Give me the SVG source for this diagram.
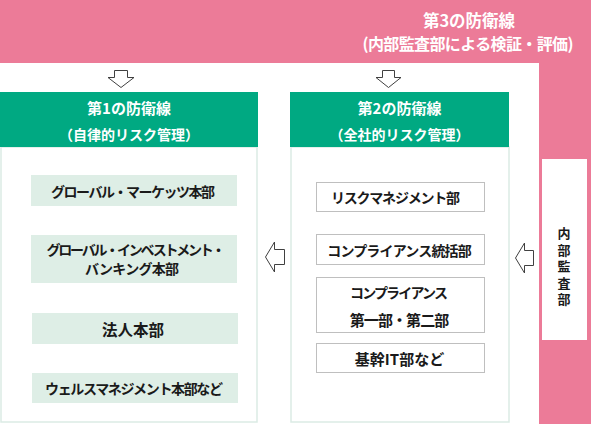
<svg xmlns="http://www.w3.org/2000/svg" width="591" height="424" viewBox="0 0 591 424">
<style>
text{font-family:"Noto Sans CJK JP","Noto Sans",sans-serif;font-weight:bold;text-anchor:middle;dominant-baseline:central}
.t1{font-size:16.5px;fill:#ffffff}
.t2{font-size:16px;fill:#ffffff}
.h1{font-size:15px;fill:#ffffff}
.h2{font-size:14px;fill:#ffffff}
.item{font-size:14px;fill:#1a1a1a}
.big{font-size:15.5px;fill:#1a1a1a}
.mid{font-size:15px;fill:#1a1a1a}
.vert{font-size:13px;fill:#1a1a1a;writing-mode:vertical-rl;letter-spacing:3.4px}
.pink{fill:#ec7b98}
.green{fill:#00a982}
.panel{fill:#ffffff;stroke:#dbebe5;stroke-width:1.5}
.lbox{fill:#deeee6}
.rbox{fill:#ffffff;stroke:#bfbfbf;stroke-width:1}
.arrow{fill:#ffffff;stroke:#404040;stroke-width:1}
</style>
<g id="third-line">
<rect class="pink" x="0" y="0" width="591" height="63"/>
<rect class="pink" x="539" y="63" width="52" height="361"/>
<text class="t1" x="469" y="20">第3の防衛線</text>
<text class="t2" x="468" y="43" textLength="211" lengthAdjust="spacing">(内部監査部による検証・評価)</text>
</g>
<g id="internal-audit">
<rect x="542" y="159" width="45" height="181" fill="#ffffff"/>
<text class="vert" x="564" y="268">内部監査部</text>
</g>
<g id="first-line">
<rect class="panel" x="1" y="147" width="256" height="275"/>
<rect class="green" x="0" y="92" width="258" height="55"/>
<text class="h1" x="129" y="107">第1の防衛線</text>
<text class="h2" x="129" y="134">（自律的リスク管理）</text>
</g>
<g id="global-markets">
<rect class="lbox" x="31" y="175" width="206" height="31"/>
<text class="item" x="133" y="191" textLength="164" lengthAdjust="spacing">グローバル・マーケッツ本部</text>
</g>
<g id="global-ib">
<rect class="lbox" x="31" y="235" width="206" height="48"/>
<text class="item" x="136" y="249" textLength="179" lengthAdjust="spacing">グローバル・インベストメント・</text>
<text class="item" x="132" y="268" textLength="94" lengthAdjust="spacing">バンキング本部</text>
</g>
<g id="corporate">
<rect class="lbox" x="32" y="313" width="206" height="31"/>
<text class="big" x="133" y="329">法人本部</text>
</g>
<g id="wealth">
<rect class="lbox" x="32" y="373" width="206" height="30"/>
<text class="item" x="134" y="388" textLength="178" lengthAdjust="spacing">ウェルスマネジメント本部など</text>
</g>
<g id="second-line">
<rect class="panel" x="291" y="147" width="218" height="275"/>
<rect class="green" x="290" y="92" width="219" height="55"/>
<text class="h1" x="399.5" y="107">第2の防衛線</text>
<text class="h2" x="399.5" y="134">（全社的リスク管理）</text>
</g>
<g id="risk-mgmt">
<rect class="rbox" x="316.5" y="182.5" width="168" height="29"/>
<text class="item" x="395.5" y="197" textLength="129" lengthAdjust="spacing">リスクマネジメント部</text>
</g>
<g id="compliance-hq">
<rect class="rbox" x="316.5" y="234.5" width="168" height="30"/>
<text class="item" x="399.5" y="250" textLength="144.5" lengthAdjust="spacing">コンプライアンス統括部</text>
</g>
<g id="compliance-depts">
<rect class="rbox" x="316.5" y="277.5" width="168" height="55"/>
<text class="item" x="399" y="292" textLength="98" lengthAdjust="spacing">コンプライアンス</text>
<text class="mid" x="399.5" y="319" textLength="99.5" lengthAdjust="spacing">第一部・第二部</text>
</g>
<g id="core-it">
<rect class="rbox" x="316.5" y="343.5" width="168" height="29"/>
<text class="mid" x="399.5" y="358">基幹IT部など</text>
</g>
<g id="connectors">
<polygon class="arrow" points="114.5,70.5 127.5,70.5 127.5,77.5 134,77.5 121,87.5 108,77.5 114.5,77.5"/>
<polygon class="arrow" points="382.5,70.5 394.5,70.5 394.5,77.5 401,77.5 388.5,87.5 376,77.5 382.5,77.5"/>
<polygon class="arrow" points="284.5,249.5 284.5,264.5 274.5,264.5 274.5,272 265.5,257 274.5,242 274.5,249.5"/>
<polygon class="arrow" points="533.5,250.5 533.5,265.5 524.5,265.5 524.5,273 515.5,258 524.5,243 524.5,250.5"/>
</g>
</svg>
